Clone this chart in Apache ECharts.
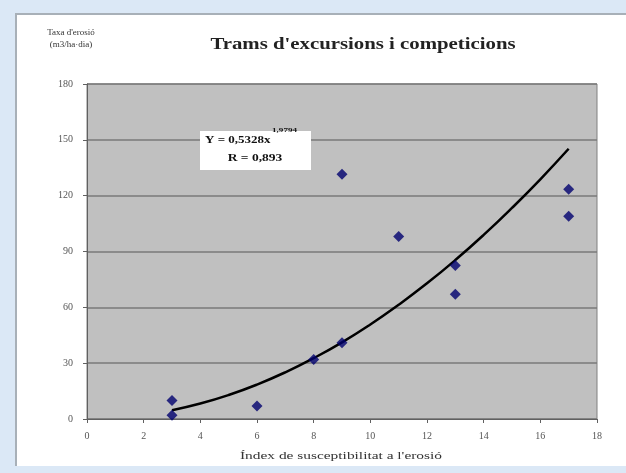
<!DOCTYPE html>
<html>
<head>
<meta charset="utf-8">
<script src="https://cdn.jsdelivr.net/npm/echarts@6/dist/echarts.min.js"></script>
<style>
html,body{margin:0;padding:0;width:626px;height:473px;background:#dbe8f6;overflow:hidden;}
#chart{position:absolute;left:15px;top:13px;width:611px;height:453px;background:#ffffff;border-left:2px solid #a8b0b8;border-top:2px solid #a8b0b8;box-sizing:border-box;}
</style>
</head>
<body>
<div id="chart"></div>
<script>
var titleText = "Trams d'excursions i competicions";
var yAxisName = "Taxa d'erosió\n(m3/ha·dia)";
var xAxisName = "Índex de susceptibilitat a l'erosió";
var pointsX = [3, 3, 6, 8, 9, 9, 11, 13, 13, 17, 17];
var pointsY = [10, 2, 7, 32, 41, 131.5, 98, 82.5, 67, 123.5, 109];
var trendX = [3, 4, 5, 6, 7, 8, 9, 10, 11, 12, 13, 14, 15, 16, 17];
var trendY = [4.7, 8.3, 12.9, 18.5, 25.1, 32.7, 41.2, 50.8, 61.4, 72.9, 85.4, 98.9, 113.4, 128.8, 145.2];
var eqLine1 = "Y = 0,5328x";
var eqExp = "1,9794";
var eqLine2 = "R = 0,893";

var chart = echarts.init(document.getElementById('chart'));
var font = "Liberation Serif";
chart.setOption({
  animation: false,
  backgroundColor: 'transparent',
  graphic: [
    {type: 'text', x: 346, y: 30, scaleX: 1.3, style: {text: titleText, fontFamily: font, fontSize: 16, fontWeight: 'bold', fill: '#222', textAlign: 'center', textVerticalAlign: 'middle'}},
    {type: 'text', x: 324, y: 441, scaleX: 1.4, style: {text: xAxisName, fontFamily: font, fontSize: 11, fill: '#333', textAlign: 'center', textVerticalAlign: 'middle'}},
    {type: 'text', x: 54, y: 12, style: {text: yAxisName, fontFamily: font, fontSize: 9, fill: '#333', textAlign: 'center', lineHeight: 12}},
    {type: 'rect', shape: {x: 183, y: 116, width: 111, height: 39}, style: {fill: '#ffffff'}, z: 10},
    {type: 'text', x: 188, y: 125, scaleX: 1.3, z: 11, style: {text: eqLine1, fontFamily: font, fontSize: 10, fontWeight: 'bold', fill: '#111', textAlign: 'left', textVerticalAlign: 'middle'}},
    {type: 'text', x: 255, y: 115, scaleX: 1.3, z: 11, style: {text: eqExp, fontFamily: font, fontSize: 7, fontWeight: 'bold', fill: '#111', textAlign: 'left', textVerticalAlign: 'middle'}},
    {type: 'text', x: 238, y: 143, scaleX: 1.35, z: 11, style: {text: eqLine2, fontFamily: font, fontSize: 10, fontWeight: 'bold', fill: '#111', textAlign: 'center', textVerticalAlign: 'middle'}}
  ],
  grid: {left: 70, right: 29, top: 69, bottom: 47, show: true, backgroundColor: '#c0c0c0', borderColor: '#808080', borderWidth: 1},
  xAxis: {
    type: 'value', min: 0, max: 18, interval: 2,
    axisLine: {show: true, lineStyle: {color: '#606060', width: 1}},
    axisTick: {show: true, length: 4, lineStyle: {color: '#606060'}},
    axisLabel: {fontFamily: font, fontSize: 10, color: '#555', margin: 12},
    splitLine: {show: false}
  },
  yAxis: {
    type: 'value', min: 0, max: 180, interval: 30,
    axisLine: {show: true, lineStyle: {color: '#606060', width: 1}},
    axisTick: {show: true, length: 4, lineStyle: {color: '#606060'}},
    axisLabel: {fontFamily: font, fontSize: 10, color: '#555', margin: 14},
    splitLine: {show: true, lineStyle: {color: '#7a7a7a', width: 1.5}}
  },
  series: [
    {type: 'line', data: trendX.map(function(x, i){return [x, trendY[i]];}), smooth: true, showSymbol: false, symbol: 'none',
     lineStyle: {color: '#000000', width: 2.5}, z: 3},
    {type: 'scatter', data: pointsX.map(function(x, i){return [x, pointsY[i]];}), symbol: 'diamond', symbolSize: 11,
     itemStyle: {color: '#00006e'}, z: 4}
  ]
});
</script>
</body>
</html>
